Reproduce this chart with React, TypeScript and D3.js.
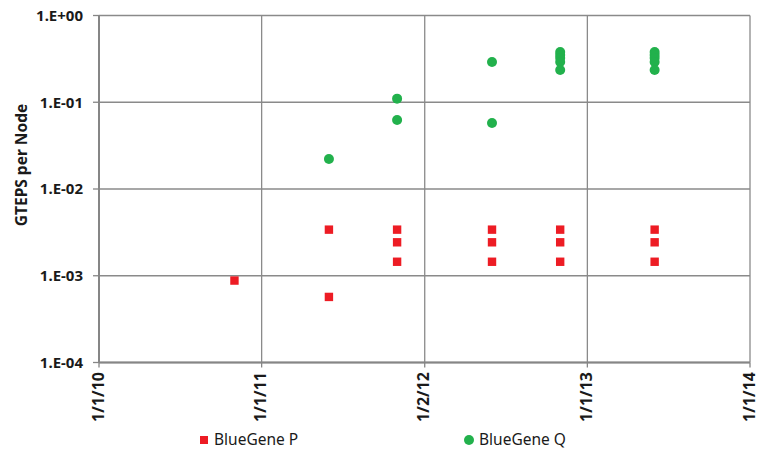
import React from "react";
import * as d3 from "d3";

// x axis ticks (Excel date axis, one major unit per year)
const xTickDates = ["2010-01-01", "2011-01-01", "2012-01-02", "2013-01-01", "2014-01-01"];
const xTickLabels = ["1/1/10", "1/1/11", "1/2/12", "1/1/13", "1/1/14"];

const yTickValues = [1e-4, 1e-3, 1e-2, 1e-1, 1];
const yTickLabels = ["1.E-04", "1.E-03", "1.E-02", "1.E-01", "1.E+00"];

// BlueGene P (GTEPS per node)
const pDates = [
  "2010-11-01",
  "2011-06-01", "2011-06-01",
  "2011-11-01", "2011-11-01", "2011-11-01",
  "2012-06-01", "2012-06-01", "2012-06-01",
  "2012-11-01", "2012-11-01", "2012-11-01",
  "2013-06-01", "2013-06-01", "2013-06-01",
];
const pValues = [
  0.00088,
  0.0034, 0.00057,
  0.0034, 0.00243, 0.00145,
  0.0034, 0.00243, 0.00145,
  0.0034, 0.00243, 0.00145,
  0.0034, 0.00243, 0.00145,
];

// BlueGene Q (GTEPS per node)
const qDates = [
  "2011-06-01",
  "2011-11-01", "2011-11-01",
  "2012-06-01", "2012-06-01",
  "2012-11-01", "2012-11-01", "2012-11-01", "2012-11-01", "2012-11-01",
  "2013-06-01", "2013-06-01", "2013-06-01", "2013-06-01", "2013-06-01",
];
const qValues = [
  0.0222,
  0.11, 0.0624,
  0.291, 0.0576,
  0.38, 0.351, 0.324, 0.291, 0.235,
  0.38, 0.351, 0.324, 0.291, 0.235,
];

const seriesNames = ["BlueGene P", "BlueGene Q"];

const W = 757;
const H = 451;
const left = 99;
const right = 750;
const top = 15.5;
const bottom = 362.5;

const RED = "#ed1c24";
const GREEN = "#22b14c";
const GRID = "#8a8a8a";
const INK = "#1a1a1a";
const FONT = "'Noto Sans', 'Liberation Sans', sans-serif";

export default function App() {
  const x = d3.scaleUtc()
    .domain([new Date("2010-01-01"), new Date("2014-01-01")])
    .range([left, right]);
  const y = d3.scaleLog().domain([1e-4, 1]).range([bottom, top]);

  const pPoints = pDates.map((d, i) => ({ x: x(new Date(d)), y: y(pValues[i]) }));
  const qPoints = qDates.map((d, i) => ({ x: x(new Date(d)), y: y(qValues[i]) }));

  return (
    <svg
      width={W}
      height={H}
      style={{ position: "fixed", left: 0, top: 0, background: "#fff" }}
      fontFamily={FONT}
    >
      {/* horizontal grid */}
      {yTickValues.map((v) => (
        <line key={"hg" + v} x1={left} x2={right} y1={y(v)} y2={y(v)} stroke={GRID} strokeWidth={1.3} />
      ))}
      {/* vertical grid */}
      {xTickDates.map((d) => (
        <line key={"vg" + d} x1={x(new Date(d))} x2={x(new Date(d))} y1={top} y2={bottom} stroke={GRID} strokeWidth={1.3} />
      ))}
      {/* axis lines */}
      <line x1={left} x2={left} y1={top} y2={bottom} stroke="#868686" strokeWidth={2} />
      <line x1={left} x2={right} y1={bottom} y2={bottom} stroke="#868686" strokeWidth={2} />

      {/* y ticks + labels */}
      {yTickValues.map((v, i) => (
        <g key={"yt" + v}>
          <line x1={left - 6} x2={left} y1={y(v)} y2={y(v)} stroke="#868686" strokeWidth={1.3} />
          <text x={83} y={y(v)} dy="0.35em" textAnchor="end" fontSize={15} fontWeight="bold" fill={INK}>
            {yTickLabels[i]}
          </text>
        </g>
      ))}

      {/* x ticks + rotated labels */}
      {xTickDates.map((d, i) => {
        const px = x(new Date(d));
        return (
          <g key={"xt" + d}>
            <line x1={px} x2={px} y1={bottom} y2={bottom + 5} stroke="#868686" strokeWidth={1.3} />
            <text
              transform={`translate(${px - 1},372) rotate(-90)`}
              dy="0.36em"
              textAnchor="end"
              fontSize={16}
              fontWeight="bold"
              fill={INK}
            >
              {xTickLabels[i]}
            </text>
          </g>
        );
      })}

      {/* y axis title */}
      <text
        transform="translate(22,165) rotate(-90)"
        dy="0.35em"
        textAnchor="middle"
        fontSize={15.5}
        fontWeight="bold"
        fill={INK}
      >
        GTEPS per Node
      </text>

      {/* BlueGene P markers */}
      {pPoints.map((p, i) => (
        <rect key={"p" + i} x={p.x - 4.2} y={p.y - 4.2} width={8.4} height={8.4} fill={RED} />
      ))}
      {/* BlueGene Q markers */}
      {qPoints.map((p, i) => (
        <circle key={"q" + i} cx={p.x} cy={p.y} r={5} fill={GREEN} />
      ))}

      {/* legend */}
      <rect x={200} y={436} width={8} height={8} fill={RED} />
      <text x={214} y={440} dy="0.35em" fontSize={15.5} fill={INK}>{seriesNames[0]}</text>
      <circle cx={469} cy={440} r={5} fill={GREEN} />
      <text x={479} y={440} dy="0.35em" fontSize={15.5} fill={INK}>{seriesNames[1]}</text>
    </svg>
  );
}
